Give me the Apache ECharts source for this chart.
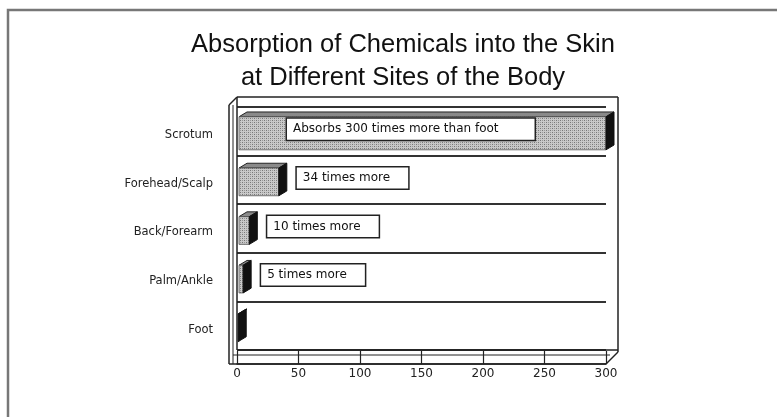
<!DOCTYPE html>
<html>
<head>
<meta charset="utf-8">
<script src="https://cdn.jsdelivr.net/npm/echarts@6/dist/echarts.min.js"></script>
<style>
  html, body { margin: 0; padding: 0; background: #fff; }
  #chart { width: 777px; height: 417px; }
</style>
</head>
<body>
<div id="chart"></div>
<script>
// data
var sites     = ['Scrotum', 'Forehead/Scalp', 'Back/Forearm', 'Palm/Ankle', 'Foot'];
var absorbed  = [300, 34, 10, 5, 1];
var notes     = ['Absorbs 300 times more than foot', '34 times more', '10 times more', '5 times more', ''];
var xTicks    = [0, 50, 100, 150, 200, 250, 300];

// plot box (px)
var G = { left: 237, top: 107, width: 369, height: 243 };
G.right = G.left + G.width;
G.bottom = G.top + G.height;
var D = 8; // 3d depth
var FONT = '"DejaVu Sans", "Liberation Sans", Arial, sans-serif';

// small dotted fill like the old print
function dotPattern() {
  var c = document.createElement('canvas');
  c.width = 4; c.height = 4;
  var g = c.getContext('2d');
  g.fillStyle = '#c9c9c9';
  g.fillRect(0, 0, 4, 4);
  g.fillStyle = '#777';
  g.fillRect(0, 0, 1, 1);
  g.fillRect(2, 2, 1, 1);
  g.fillStyle = '#999';
  g.fillRect(2, 0, 1, 1);
  g.fillRect(0, 2, 1, 1);
  return { image: c, repeat: 'repeat' };
}
var dots = dotPattern();

var seriesData = [];
for (var i = 0; i < sites.length; i++) seriesData.push([absorbed[i], i]);
var maxVal = Math.max.apply(null, absorbed);

function renderBar(params, api) {
  var v = api.value(0), idx = api.value(1);
  var p0 = api.coord([0, idx]);
  var p1 = api.coord([v, idx]);
  var band = api.size([0, 1])[1];
  var h = band * (idx === 0 ? 0.68 : 0.57);
  var yc = p0[1] + 2;
  var top = yc - h / 2, bot = yc + h / 2;
  var x0 = p0[0] + 2, x1 = p1[0];
  var kids = [
    { type: 'polygon', shape: { points: [[x0, top], [x0 + D, top - D * 0.6], [x1 + D, top - D * 0.6], [x1, top]] },
      style: { fill: '#8a8a8a', stroke: '#222', lineWidth: 1 } },
    { type: 'rect', shape: { x: x0, y: top, width: x1 - x0, height: h },
      style: { fill: dots, stroke: '#555', lineWidth: 0.8 } },
    { type: 'polygon', shape: { points: [[x1, top], [x1 + D, top - D * 0.6], [x1 + D, bot - D * 0.6], [x1, bot]] },
      style: { fill: '#111', stroke: '#111', lineWidth: 1 } }
  ];
  var note = notes[params.dataIndex];
  if (note) {
    var big = v === maxVal;
    var lx = big ? p0[0] + 50 : x1 + D + 10;
    kids.push({
      type: 'text',
      style: {
        text: note, x: lx, y: yc - 4,
        verticalAlign: 'middle', align: 'left',
        fill: '#111', font: '12px ' + FONT,
        backgroundColor: '#fff', borderColor: '#222', borderWidth: 1.5,
        padding: [5, big ? 36 : 18, 4, 6]
      }
    });
  }
  return { type: 'group', children: kids };
}

var ln = function (x1, y1, x2, y2, w) {
  return { type: 'line', shape: { x1: x1, y1: y1, x2: x2, y2: y2 },
           style: { stroke: '#222', lineWidth: w || 1.5 }, z: 5 };
};

var option = {
  backgroundColor: '#fff',
  animation: false,
  title: {
    text: 'Absorption of Chemicals into the Skin\nat Different Sites of the Body',
    left: 398, top: 23, textAlign: 'center',
    textStyle: { fontFamily: '"Liberation Sans", Arial, sans-serif', fontSize: 25.5,
                 fontWeight: 'normal', color: '#111', lineHeight: 33 }
  },
  grid: { left: G.left, top: G.top, width: G.width, height: G.height },
  xAxis: {
    type: 'value', min: 0, max: 300, interval: 50, offset: 14,
    axisLine: { show: true, lineStyle: { color: '#222', width: 1.5 } },
    axisTick: { show: true, inside: true, length: 13, lineStyle: { color: '#222', width: 1.2 } },
    axisLabel: {
      margin: 4, color: '#222', fontSize: 12, fontFamily: FONT,
      formatter: function (v) { return xTicks.indexOf(v) >= 0 ? String(v) : ''; }
    },
    splitLine: { show: false }
  },
  yAxis: {
    type: 'category', data: sites, inverse: true,
    axisLine: { show: false }, axisTick: { show: false },
    axisLabel: { margin: 24, color: '#222', fontSize: 11.5, fontFamily: FONT,
                 verticalAlign: 'top', lineHeight: 8 },
    splitLine: { show: true, lineStyle: { color: '#333', width: 1.8 } }
  },
  series: [{
    type: 'custom',
    renderItem: renderBar,
    encode: { x: 0, y: 1 },
    data: seriesData,
    z: 3
  }],
  graphic: [
    // outer frame
    { type: 'rect', shape: { x: 8, y: 10, width: 820, height: 460 },
      style: { fill: null, stroke: '#777', lineWidth: 2.5 }, z: 1 },
    // back wall
    ln(G.left, G.top - 10, G.right + D + 4, G.top - 10),
    ln(G.right + D + 4, G.top - 10, G.right + D + 4, G.bottom + 2),
    // left wall
    ln(G.left - 8, G.top - 2, G.left - 8, G.bottom + 14),
    ln(G.left - 4, G.top - 2, G.left - 4, G.bottom + 14, 1),
    ln(G.left, G.top - 10, G.left, G.bottom),
    ln(G.left - 8, G.top - 2, G.left, G.top - 10),
    // floor
    ln(G.left, G.bottom, G.right + D + 4, G.bottom),
    ln(G.left - 4, G.bottom + 5, G.right + 4, G.bottom + 5, 1),
    ln(G.left - 8, G.bottom + 14, G.right, G.bottom + 14),
    ln(G.right, G.bottom + 14, G.right + D + 4, G.bottom + 2)
  ]
};

var chart = echarts.init(document.getElementById('chart'));
chart.setOption(option);
</script>
</body>
</html>
